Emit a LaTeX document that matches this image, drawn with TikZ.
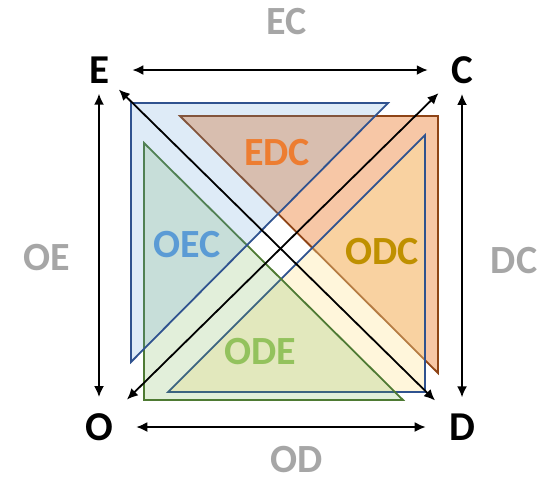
\documentclass[tikz,border=0pt]{standalone}
\usepackage{fontspec}
\setmainfont{Carlito}
\usetikzlibrary{arrows.meta}
\definecolor{labelgray}{HTML}{A6A6A6}
\definecolor{bluefill}{HTML}{5B9BD5}
\definecolor{blueline}{HTML}{2F528F}
\definecolor{orangefill}{HTML}{ED7D31}
\definecolor{orangeline}{HTML}{8E4416}
\definecolor{greenfill}{HTML}{70AD47}
\definecolor{greenline}{HTML}{4E7A33}
\definecolor{creamfill}{HTML}{FFE699}
\definecolor{edctext}{HTML}{ED7D31}
\definecolor{oectext}{HTML}{5B9BD5}
\definecolor{odctext}{HTML}{BF9000}
\definecolor{odetext}{HTML}{93C25D}
\begin{document}
\begin{tikzpicture}
[x=0.5pt,y=-0.5pt,
  cornerlabel/.style={font=\fontsize{20.5}{24}\selectfont\bfseries,inner sep=1.5pt},
  sidelabel/.style={font=\fontsize{20}{24}\selectfont\bfseries,text=labelgray},
  facelabel/.style={font=\fontsize{20}{24}\selectfont\bfseries},
  facedecorate/.style={line width=0.9pt,line join=miter},
  arrowdecorate/.style={<->,>={Latex[length=5.5pt,width=5pt]},line width=0.9pt}]
\path[use as bounding box] (0,0) rectangle (560,479);
%% faces (triangles)
\foreach \fillcol/\linecol/\op/\ax/\ay/\bx/\by/\cx/\cy in {
  orangefill/orangeline/0.43/180/116/438/116/438/373,
  creamfill/blueline/0.35/425/135/425/392/168/392,
  greenfill/greenline/0.2/144/143/144/400/403/400,
  bluefill/blueline/0.2/131/103/388/103/131/362}
{
  \filldraw[facedecorate,fill=\fillcol,fill opacity=\op,draw=\linecol]
    (\ax,\ay) -- (\bx,\by) -- (\cx,\cy) -- cycle;
}
%% corners
\foreach \nodename/\x/\y in {E/99/70, C/462/70, O/99/427, D/462/427}
{
  \node (\nodename) at (\x,\y) [cornerlabel] {\nodename};
}
%% side and face labels
\foreach \nodename/\x/\y in {EC/287/22, OE/47/258, DC/514/261, OD/297/459}
{
  \node (\nodename) at (\x,\y) [sidelabel] {\nodename};
}
\foreach \nodename/\col/\x/\y in {EDC/edctext/277/153, OEC/oectext/187/245,
  ODC/odctext/382/252, ODE/odetext/260/352}
{
  \node (\nodename) at (\x,\y) [facelabel,text=\col] {\nodename};
}
%% arrows
\path
\foreach \startnode/\endnode/\cuta/\cutb in {E/C/10pt/10pt, O/D/10pt/10pt,
  E/O/3.5pt/6.5pt, C/D/3.5pt/6.5pt, E/D/4.5pt/7.5pt, O/C/7.5pt/6.5pt} {
  (\startnode) edge[arrowdecorate,shorten <=\cuta,shorten >=\cutb] (\endnode)
};
\end{tikzpicture}
\end{document}
